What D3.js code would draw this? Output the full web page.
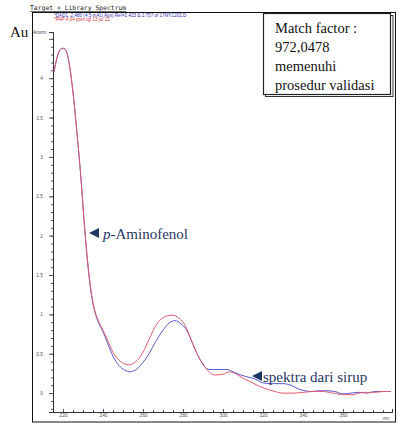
<!DOCTYPE html>
<html>
<head>
<meta charset="utf-8">
<script src="https://cdn.jsdelivr.net/npm/d3@7"></script>
<style>
  body { margin: 0; background: #fff; }
  svg { display: block; }
</style>
</head>
<body>
<div id="chart"></div>
<script>
// wavelength (nm) and absorbance
const libNm = [215.5, 217, 218.5, 220, 221.5, 223, 225, 227, 229, 230.5, 232, 233.5, 235, 236.5, 238,
  240, 242.5, 245, 248, 251, 253, 256, 260, 263, 266, 269, 272, 275, 278, 281, 284, 287, 290, 293, 296,
  300, 303, 306, 310, 314, 318, 322, 326, 330, 335, 340, 345, 350, 355, 360, 365, 368, 372, 376, 380, 384];
const libAbs = [4.08, 4.26, 4.36, 4.38, 4.35, 4.2, 3.82, 3.3, 2.72, 2.2, 1.75, 1.4, 1.15, 1.0, 0.9,
  0.8, 0.66, 0.52, 0.42, 0.37, 0.36, 0.39, 0.52, 0.68, 0.84, 0.94, 0.98, 0.99, 0.95, 0.86, 0.68, 0.5, 0.37, 0.27, 0.23,
  0.24, 0.27, 0.25, 0.19, 0.14, 0.09, 0.05, 0.02, 0.0, 0.0, 0.01, 0.02, 0.02, 0.0, -0.02, -0.02, 0.0, 0.01, 0.01, 0.02, 0.02];

const sampleNm = [215.5, 217, 218.5, 220, 221.5, 223, 225, 227, 229, 230.5, 232, 233.5, 235, 236.5, 238,
  240, 242.5, 245, 248, 251, 253.5, 256, 259, 263, 266, 270, 273, 276, 279, 282, 285, 288, 291, 293, 296,
  302, 305, 309, 313, 316, 320, 325, 330, 334, 338, 341, 344, 348, 352, 356, 360, 364, 368, 372, 376, 380, 384];
const sampleAbs = [4.08, 4.26, 4.36, 4.38, 4.35, 4.2, 3.82, 3.3, 2.72, 2.2, 1.74, 1.38, 1.13, 0.98, 0.88,
  0.78, 0.62, 0.47, 0.35, 0.29, 0.27, 0.29, 0.36, 0.5, 0.64, 0.8, 0.89, 0.92, 0.88, 0.79, 0.62, 0.45, 0.33, 0.3, 0.3,
  0.3, 0.27, 0.23, 0.2, 0.18, 0.13, 0.12, 0.12, 0.1, 0.05, 0.03, 0.02, 0.03, 0.03, 0.02, -0.01, 0.0, 0.01, 0.0, 0.02, 0.02, 0.02];

const xTicks = [220, 240, 260, 280, 300, 320, 340, 360];
const yTicks = [0, 0.5, 1, 1.5, 2, 2.5, 3, 3.5, 4];
const matchLines = ["Match factor :", "972,0478", "memenuhi", "prosedur validasi"];

const width = 399, height = 423;
const navy = "#1f3864";

const svg = d3.select("#chart").append("svg")
  .attr("width", width).attr("height", height);

const x = d3.scaleLinear().domain([215, 384.5]).range([53, 392]);
const y = d3.scaleLinear().domain([-0.24, 4.587]).range([412, 32]);

// outer frame
svg.append("rect").attr("x", 32.5).attr("y", 12.5).attr("width", 363).attr("height", 409.5)
  .attr("fill", "none").attr("stroke", "#111").attr("stroke-width", 1);

// headers
svg.append("text").attr("x", 30).attr("y", 10)
  .style("font-family", "'DejaVu Sans Mono', monospace").style("font-size", "6.4px")
  .style("text-decoration", "underline").attr("fill", "#222")
  .text("Target + Library Spectrum");
svg.append("text").attr("x", 54).attr("y", 16.5)
  .style("font-family", "'Liberation Sans', sans-serif").style("font-size", "4.6px").attr("fill", "#3434b0")
  .text("*DAD1, 2.480 (4.5 mAU,Apx) Ref=2.423 & 2.757 of 17MY1202.D");
svg.append("text").attr("x", 54).attr("y", 21)
  .style("font-family", "'Liberation Sans', sans-serif").style("font-size", "4.6px").attr("fill", "#d03040")
  .text("*PAP 4.04 ppm tgl 13 jul 12");

svg.append("text").attr("x", 10).attr("y", 37)
  .style("font-family", "'Liberation Serif', serif").style("font-size", "15px").attr("fill", "#111")
  .text("Au");
svg.append("text").attr("x", 33).attr("y", 33.5)
  .style("font-family", "'Liberation Sans', sans-serif").style("font-size", "4.5px").attr("fill", "#444")
  .text("Anorm");

// axes
const yAxis = svg.append("g").attr("transform", "translate(53,0)")
  .call(d3.axisLeft(y).tickValues(d3.range(-0.2, 4.6, 0.1)).tickSize(2).tickFormat(""));
yAxis.append("g").call(d3.axisLeft(y).tickValues(yTicks.concat([4.5])).tickSize(4)
  .tickFormat(d => yTicks.includes(d) ? d3.format("~g")(d) : ""));
yAxis.selectAll(".domain").attr("stroke", "#333");
yAxis.selectAll("line").attr("stroke", "#555");
yAxis.selectAll("text").style("font-family", "'Liberation Sans', sans-serif")
  .style("font-size", "4.8px").attr("fill", "#555").attr("dx", "-3px");

const xAxis = svg.append("g").attr("transform", "translate(0,412)")
  .call(d3.axisBottom(x).tickValues(d3.range(215, 385, 5)).tickSize(-2).tickFormat(""));
xAxis.append("g").call(d3.axisBottom(x).tickValues(xTicks).tickSize(-3).tickPadding(2));
xAxis.selectAll(".domain").attr("stroke", "#333");
xAxis.selectAll("line").attr("stroke", "#555");
xAxis.selectAll("text").style("font-family", "'Liberation Sans', sans-serif")
  .style("font-size", "4.8px").attr("fill", "#555");
xAxis.append("text").attr("x", x(381.5)).attr("y", 7.5).attr("text-anchor", "middle")
  .style("font-family", "'Liberation Sans', sans-serif").style("font-size", "4.8px").attr("fill", "#555")
  .text("nm");

// spectra
const line = d3.line().x(d => x(d[0])).y(d => y(d[1])).curve(d3.curveMonotoneX);
svg.append("path").datum(d3.zip(sampleNm, sampleAbs))
  .attr("fill", "none").attr("stroke", "#5a5cd0").attr("stroke-width", 1).attr("d", line);
svg.append("path").datum(d3.zip(libNm, libAbs))
  .attr("fill", "none").attr("stroke", "#e25c70").attr("stroke-width", 1).attr("d", line);

// annotations
function pointer(tx, ty) {
  svg.append("path").attr("d", `M${tx},${ty} L${tx + 10},${ty - 5} L${tx + 10},${ty + 5} Z`).attr("fill", navy);
}
pointer(89, 233);
const pa = svg.append("text").attr("x", 103).attr("y", 238.5)
  .style("font-family", "'Liberation Serif', serif").style("font-size", "15px").attr("fill", navy);
pa.append("tspan").style("font-style", "italic").text("p");
pa.append("tspan").text("-Aminofenol");

pointer(252, 376);
svg.append("text").attr("x", 263).attr("y", 382)
  .style("font-family", "'Liberation Serif', serif").style("font-size", "15px").attr("fill", navy)
  .text("spektra dari sirup");

// match factor box (thin double edge on right/bottom)
svg.append("rect").attr("x", 265.5).attr("y", 15.5).attr("width", 127.5).attr("height", 81)
  .attr("fill", "none").attr("stroke", "#333").attr("stroke-width", 1);
svg.append("rect").attr("x", 263.5).attr("y", 13.5).attr("width", 127).attr("height", 81)
  .attr("fill", "#fff").attr("stroke", "#222").attr("stroke-width", 1.2);
svg.append("g").selectAll("text").data(matchLines).enter().append("text")
  .attr("x", 275).attr("y", (d, i) => 33 + i * 19)
  .style("font-family", "'Liberation Serif', serif").style("font-size", "14.5px").attr("fill", "#111")
  .text(d => d);
</script>
</body>
</html>
